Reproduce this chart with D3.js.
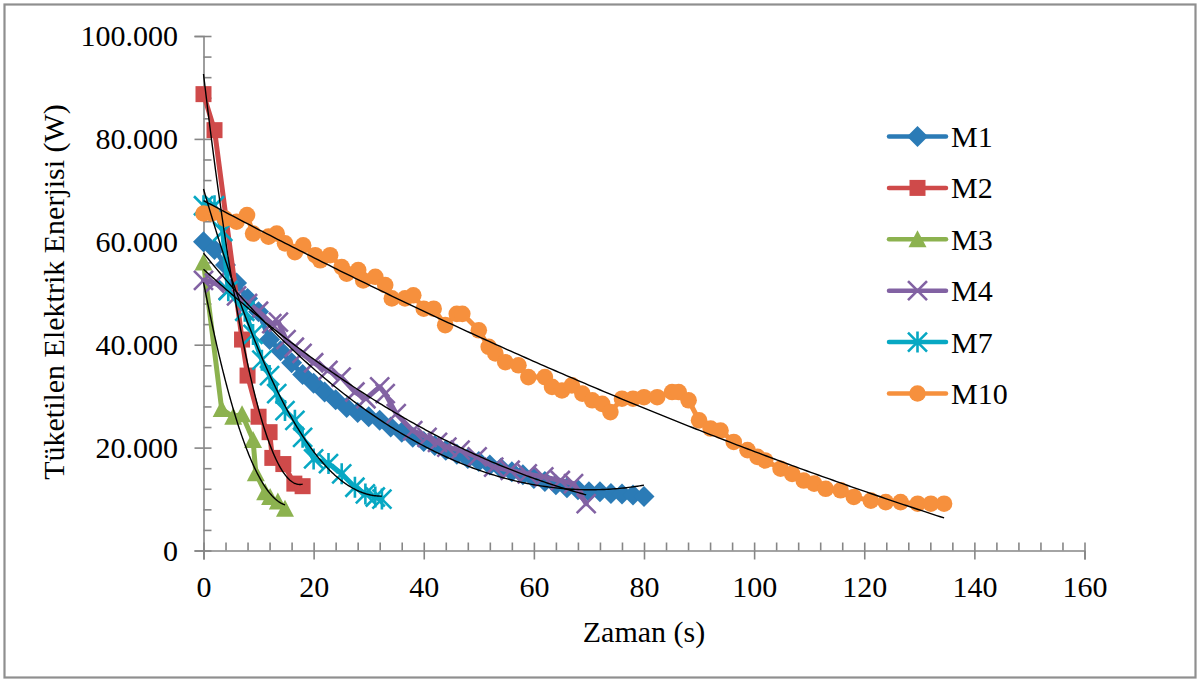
<!DOCTYPE html>
<html>
<head>
<meta charset="utf-8">
<script src="https://cdn.jsdelivr.net/npm/d3@7"></script>
<style>
  html, body { margin: 0; padding: 0; background: #fff; }
  svg { display: block; }
  text { font-family: "Liberation Serif", "Times New Roman", serif; fill: #000; }
</style>
</head>
<body>
<svg id="chart" width="1198" height="681"></svg>
<script>
// Zaman (s) values and consumed electrical energy (W) for each measurement
const m1Time = [0, 2, 4, 6, 8, 10, 12, 14, 16, 18, 20, 22, 24, 26, 28, 30, 32, 34, 36, 38, 40, 42, 44, 46, 48, 50, 52, 54, 56, 58, 60, 62, 64, 66, 68, 70, 72, 74, 76, 78, 80];
const m1Power = [60000, 58500, 55500, 52000, 49000, 46400, 41000, 38800, 36500, 34200, 32500, 30800, 29300, 27800, 26800, 26000, 25300, 24000, 23000, 22000, 21200, 20400, 19500, 18700, 17900, 17300, 16600, 16000, 15300, 14700, 14000, 13400, 12800, 12200, 11800, 11400, 11400, 11100, 11000, 10800, 10500];

const m2Time = [0, 2, 7, 8, 10, 12, 12.5, 14.5, 16.5, 18];
const m2Power = [88700, 81700, 41000, 34000, 26000, 23000, 18000, 16800, 13000, 12500];

const m3Time = [0, 3.3, 5.4, 7, 9, 9.5, 11.2, 12.1, 13.5, 14.8];
const m3Power = [56000, 27500, 26000, 26500, 21500, 15000, 11300, 10400, 9500, 8100];

const m4Time = [0, 2, 4.5, 6, 8, 10, 12.4, 13.6, 15, 16.5, 17.9, 20, 22.6, 25, 27.5, 29.5, 32, 33, 35, 38, 40.6, 42.5, 44.2, 46.6, 49.7, 52.7, 55.7, 58.8, 61.8, 64.8, 67.2, 69.5];
const m4Power = [52500, 52000, 50600, 49500, 48000, 46500, 44100, 44400, 41000, 39500, 38300, 36500, 35000, 33700, 30800, 29500, 31800, 30500, 26600, 23300, 22000, 21000, 20100, 19500, 18200, 16200, 15600, 14900, 14300, 13600, 13000, 9100];

const m7Time = [0, 2, 3.5, 4.5, 7.5, 9, 10.6, 12, 13.3, 14.8, 16.6, 18, 20, 22.7, 25.1, 27.5, 29.4, 31.2, 32.4];
const m7Power = [67000, 67000, 62000, 50500, 46500, 42000, 37000, 34000, 30500, 27200, 25300, 22000, 17800, 16900, 14900, 12300, 11000, 10400, 10000];

const m10Time = [0, 1.5, 3.9, 6, 7.9, 9, 11.8, 13.3, 14.8, 16.6, 18.1, 20.3, 21.2, 23, 25.1, 26, 28.1, 29, 31.2, 33, 34.2, 36.6, 38.1, 40, 41.8, 43.9, 46, 47, 50, 51.8, 53, 54.8, 57.2, 59, 62, 63.3, 65.1, 66.9, 68.8, 70.6, 72.4, 73.9, 76, 78, 80, 82.4, 85.1, 86.3, 88.1, 90, 92.1, 93.9, 96.3, 98.8, 100.6, 102, 104.8, 106.9, 109, 110.9, 113, 115.7, 118.1, 121.2, 123.9, 126.6, 129.7, 132.1, 134.5];
const m10Power = [65500, 65500, 64500, 63900, 65200, 61600, 61000, 61600, 59700, 58000, 59300, 57400, 56400, 57400, 55100, 53800, 54500, 52500, 53200, 51600, 49000, 49000, 49600, 47000, 47000, 43800, 46000, 46000, 42800, 39600, 38300, 36600, 36000, 33700, 33700, 31800, 31100, 32100, 30500, 29200, 28500, 26900, 29500, 29500, 29800, 29800, 30800, 30800, 29200, 25300, 23700, 23300, 21100, 19500, 18200, 17500, 15900, 14900, 13600, 13000, 12000, 11700, 10400, 9700, 9400, 9400, 9100, 9100, 9100];

const seriesNames = ["M1", "M2", "M3", "M4", "M7", "M10"];
const seriesColors = ["#2b7bb6", "#cf4a4a", "#8cb24f", "#8262a3", "#07a8c3", "#f6903d"];
const seriesMarkers = ["diamond", "square", "triangle", "cross", "asterisk", "circle"];

// Axis tick labels
const xTickValues = [0, 20, 40, 60, 80, 100, 120, 140, 160];
const yTickValues = [0, 20000, 40000, 60000, 80000, 100000];

const xTitle = "Zaman (s)";
const yTitle = "Tüketilen Elektrik Enerjisi (W)";

const serif = '"Liberation Serif", "Times New Roman", serif';

const series = seriesNames.map((name, i) => {
  const t = [m1Time, m2Time, m3Time, m4Time, m7Time, m10Time][i];
  const p = [m1Power, m2Power, m3Power, m4Power, m7Power, m10Power][i];
  return { name, color: seriesColors[i], marker: seriesMarkers[i], points: t.map((x, j) => ({ x, y: p[j] })) };
});

const svg = d3.select("#chart");

// Outer chart frame
svg.append("rect")
  .attr("x", 4.5).attr("y", 4.5)
  .attr("width", 1191).attr("height", 673)
  .attr("fill", "#fff").attr("stroke", "#8f8f8f").attr("stroke-width", 2.2);

const x = d3.scaleLinear().domain([0, 160]).range([203.5, 1084.5]);
const y = d3.scaleLinear().domain([0, 100000]).range([550.5, 36]);

const tr = d3.formatLocale({ decimal: ",", thousands: ".", grouping: [3], currency: ["", ""] });
const yFmt = tr.format(",");

const axisColor = "#868686";

// Y axis: major ticks outside with labels, minor ticks inside
const yMajor = svg.append("g").attr("transform", `translate(${x(0)},0)`)
  .call(d3.axisLeft(y).tickValues(yTickValues).tickSize(9).tickPadding(16).tickFormat(yFmt));
const yMinor = svg.append("g").attr("transform", `translate(${x(0)},0)`)
  .call(d3.axisRight(y).tickValues(d3.range(0, 100001, 4000)).tickSize(8).tickFormat(""));
yMinor.select(".domain").remove();

// X axis
const xMajor = svg.append("g").attr("transform", `translate(0,${y(0)})`)
  .call(d3.axisBottom(x).tickValues(xTickValues).tickSize(9).tickPadding(16).tickFormat(d3.format("d")));
const xMinor = svg.append("g").attr("transform", `translate(0,${y(0)})`)
  .call(d3.axisTop(x).tickValues(d3.range(0, 161, 4)).tickSize(8).tickFormat(""));
xMinor.select(".domain").remove();

[yMajor, yMinor, xMajor, xMinor].forEach(g => {
  g.attr("font-family", serif);
  g.selectAll("path.domain").attr("stroke", axisColor).attr("stroke-width", 1.6);
  g.selectAll(".tick line").attr("stroke", axisColor).attr("stroke-width", 1.6);
  g.selectAll("text").style("font-family", serif).style("font-size", "30px").attr("fill", "#000");
});
yMajor.selectAll(".tick text").attr("x", -25.5).attr("dy", "0.32em");
xMajor.selectAll(".tick text").attr("y", 46).attr("dy", 0);

// Axis titles
svg.append("text")
  .attr("x", x(80)).attr("y", 642)
  .attr("text-anchor", "middle")
  .style("font-family", serif)
  .style("font-size", "30px")
  .text(xTitle);

svg.append("text")
  .attr("transform", "translate(64,292) rotate(-90)")
  .attr("text-anchor", "middle")
  .style("font-family", serif)
  .style("font-size", "30px")
  .text(yTitle);

// Marker shapes
function drawMarker(g, type, color, cx, cy) {
  if (type === "diamond") {
    const r = 10.5;
    g.append("path").attr("d", `M${cx},${cy - r}L${cx + r},${cy}L${cx},${cy + r}L${cx - r},${cy}Z`).attr("fill", color);
  } else if (type === "square") {
    const s = 16;
    g.append("rect").attr("x", cx - s / 2).attr("y", cy - s / 2).attr("width", s).attr("height", s).attr("fill", color);
  } else if (type === "triangle") {
    const w = 18, h = 16;
    g.append("path").attr("d", `M${cx},${cy - h / 2 - 1}L${cx + w / 2},${cy + h / 2}L${cx - w / 2},${cy + h / 2}Z`).attr("fill", color);
  } else if (type === "cross") {
    const r = 9.5;
    g.append("path").attr("d", `M${cx - r},${cy - r}L${cx + r},${cy + r}M${cx - r},${cy + r}L${cx + r},${cy - r}`)
      .attr("stroke", color).attr("stroke-width", 2.6).attr("fill", "none");
  } else if (type === "asterisk") {
    const r = 9.5;
    g.append("path").attr("d", `M${cx - r},${cy - r}L${cx + r},${cy + r}M${cx - r},${cy + r}L${cx + r},${cy - r}M${cx},${cy - r - 1}L${cx},${cy + r + 1}`)
      .attr("stroke", color).attr("stroke-width", 2.6).attr("fill", "none");
  } else if (type === "circle") {
    g.append("circle").attr("cx", cx).attr("cy", cy).attr("r", 8.3).attr("fill", color);
  }
}

const line = d3.line().x(d => x(d.x)).y(d => y(d.y));

const plot = svg.append("g");
series.forEach(s => {
  const g = plot.append("g");
  g.append("path").datum(s.points)
    .attr("d", line)
    .attr("fill", "none").attr("stroke", s.color).attr("stroke-width", 5)
    .attr("stroke-linejoin", "round").attr("stroke-linecap", "round");
  s.points.forEach(p => drawMarker(g, s.marker, s.color, x(p.x), y(p.y)));
});

// Second-order polynomial trendlines fitted by least squares
function quadFit(pts) {
  let n = pts.length, sx = 0, sx2 = 0, sx3 = 0, sx4 = 0, sy = 0, sxy = 0, sx2y = 0;
  pts.forEach(p => {
    const a = p.x, b = p.y;
    sx += a; sx2 += a * a; sx3 += a * a * a; sx4 += a * a * a * a;
    sy += b; sxy += a * b; sx2y += a * a * b;
  });
  const M = [[n, sx, sx2, sy], [sx, sx2, sx3, sxy], [sx2, sx3, sx4, sx2y]];
  for (let i = 0; i < 3; i++) {
    let piv = i;
    for (let k = i + 1; k < 3; k++) if (Math.abs(M[k][i]) > Math.abs(M[piv][i])) piv = k;
    [M[i], M[piv]] = [M[piv], M[i]];
    for (let k = 0; k < 3; k++) {
      if (k === i) continue;
      const f = M[k][i] / M[i][i];
      for (let j = i; j < 4; j++) M[k][j] -= f * M[i][j];
    }
  }
  return [M[0][3] / M[0][0], M[1][3] / M[1][1], M[2][3] / M[2][2]];
}

const trends = svg.append("g");
series.forEach(s => {
  const c = quadFit(s.points);
  const [x0, x1] = d3.extent(s.points, p => p.x);
  const samples = d3.range(0, 201).map(i => {
    const t = x0 + (x1 - x0) * i / 200;
    return { x: t, y: c[0] + c[1] * t + c[2] * t * t };
  });
  trends.append("path").datum(samples)
    .attr("d", line)
    .attr("fill", "none").attr("stroke", "#000").attr("stroke-width", 1.4);
});

// Legend
const legend = svg.append("g");
series.forEach((s, i) => {
  const ly = 136.5 + i * 51.4;
  const g = legend.append("g");
  g.append("line").attr("x1", 889).attr("x2", 946).attr("y1", ly).attr("y2", ly)
    .attr("stroke", s.color).attr("stroke-width", 4.5).attr("stroke-linecap", "round");
  drawMarker(g, s.marker, s.color, 917.5, ly);
  g.append("text").attr("x", 951).attr("y", ly + 10.5)
    .style("font-family", serif)
    .style("font-size", "30px").text(s.name);
});
</script>
</body>
</html>
